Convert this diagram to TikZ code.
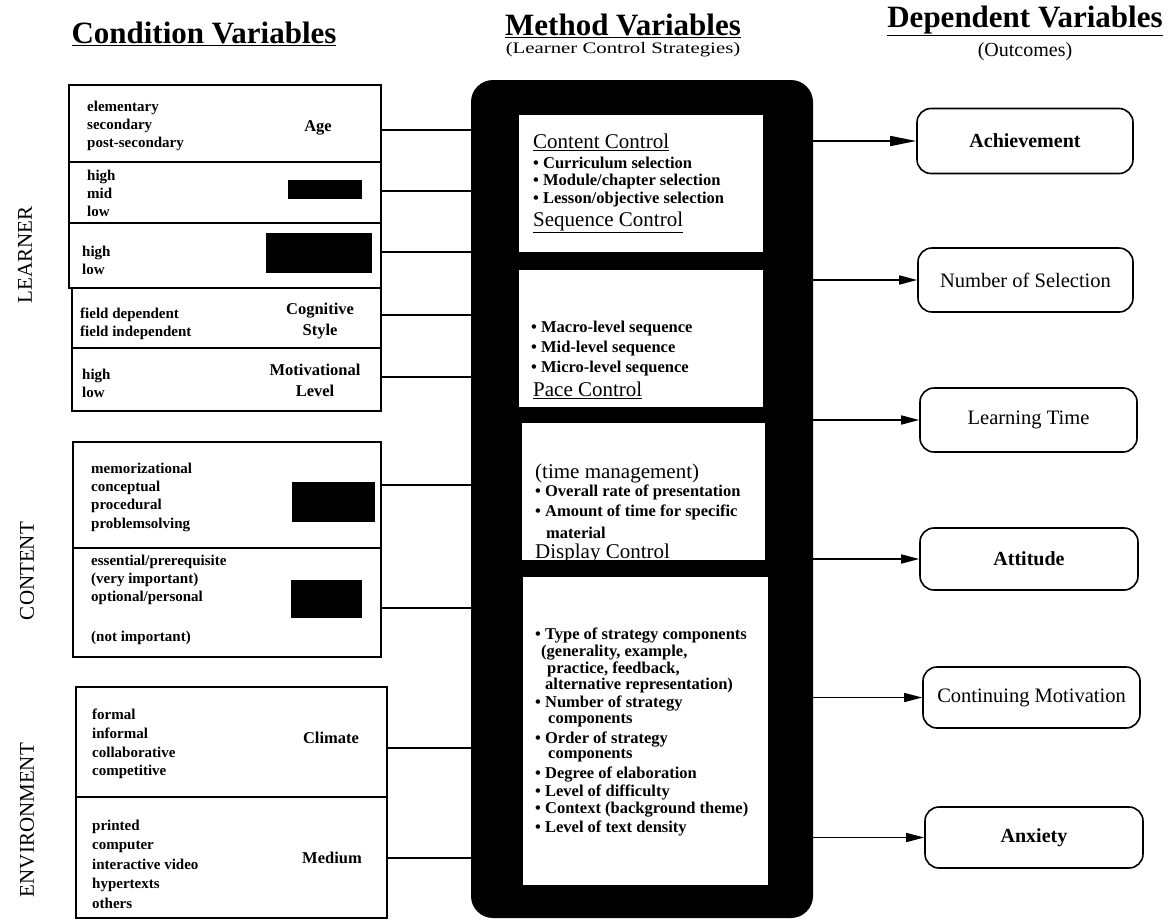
\documentclass[tikz,border=0pt]{standalone}
\usepackage{fontspec}
\setmainfont{Liberation Serif}
\usetikzlibrary{arrows.meta}
\begin{document}
\begin{tikzpicture}[x=1pt,y=-1pt,
  box/.style={draw, line width=1.6pt, inner sep=0, rectangle},
  itm/.style={anchor=west, align=left, inner sep=0, font=\fontsize{15}{18}\selectfont\bfseries},
  lab/.style={align=center, inner sep=0, font=\fontsize{16.5}{21}\selectfont\bfseries},
  side/.style={rotate=90, inner sep=0, font=\fontsize{21}{24}\selectfont},
  blt/.style={anchor=west, inner sep=0, font=\fontsize{16.5}{18}\selectfont\bfseries},
  hd/.style={anchor=west, inner sep=0, font=\fontsize{21}{23}\selectfont},
  ttl/.style={anchor=base, inner sep=0, font=\fontsize{31}{34}\selectfont\bfseries},
  outc/.style={draw, line width=1.6pt, rounded corners=14pt, inner sep=0, font=\fontsize{20.5}{23}\selectfont},
  outb/.style={outc, font=\fontsize{20}{23}\selectfont\bfseries},
  conn/.style={line width=1.6pt},
  arr/.style={line width=1.6pt, -{Triangle[length=18pt,width=9pt]}},
  panel/.style={fill=white, inner sep=0, rectangle},
  patch/.style={fill=black, inner sep=0, rectangle},
]
\useasboundingbox (0,0) rectangle (1168,922);

% titles
\node[ttl] (tcond) at (204,43) {\underline{Condition Variables}};
\node[ttl] (tmeth) at (623,35) {\underline{Method Variables}};
\node[inner sep=0, font=\fontsize{16}{18}\selectfont] (tmsub) at (623,50) {\scalebox{1.3}[1]{(Learner Control Strategies)}};
\node[ttl] (tdep) at (1025,27) {\underline{Dependent Variables}};
\node[inner sep=0, font=\fontsize{20}{22}\selectfont] (tdsub) at (1025,52) {(Outcomes)};

% side labels
\node[side] (slearn) at (25,255) {LEARNER};
\node[side] (scont) at (27,571) {CONTENT};
\node[side] (senv) at (27,820) {ENVIRONMENT};

% left boxes
\node[box, minimum width=312, minimum height=77] (age) at (225,123.5) {};
\node[box, minimum width=312, minimum height=61] (abl) at (225,192.5) {};
\node[box, minimum width=312, minimum height=65] (pri) at (225,255.5) {};
\node[box, minimum width=309, minimum height=60] (cog) at (226.5,318) {};
\node[box, minimum width=309, minimum height=63] (mot) at (226.5,379.5) {};
\node[box, minimum width=308, minimum height=106] (c1) at (227,495) {};
\node[box, minimum width=308, minimum height=109] (c2) at (227,602.5) {};
\node[box, minimum width=311, minimum height=110] (e1) at (231.5,742) {};
\node[box, minimum width=311, minimum height=121] (e2) at (231.5,857.5) {};

% left box contents
\node[itm] (ageL) at (87,126) {elementary\\secondary\\post-secondary};
\node[lab] (ageR) at (318,128) {Age};
\node[itm] (ablL) at (87,193) {high\\mid\\low};
\node[patch, minimum width=74, minimum height=19] (ablP) at (325,189.5) {};
\node[itm] (priL) at (82,260) {high\\low};
\node[patch, minimum width=106, minimum height=40] (priP) at (319,253) {};
\node[itm] (cogL) at (80,324) {field dependent\\field independent};
\node[lab] (cogR) at (320,321) {Cognitive\\Style};
\node[itm] (motL) at (82,383) {high\\low};
\node[lab] (motR) at (315,380) {Motivational\\Level};
\node[itm, font=\fontsize{15}{18.3}\selectfont\bfseries] (c1L) at (91,497) {memorizational\\conceptual\\procedural\\problemsolving};
\node[patch, minimum width=83, minimum height=40] (c1P) at (333.5,502) {};
\node[itm] (c2L) at (91,600) {essential/prerequisite\\(very important)\\optional/personal\\[22pt](not important)};
\node[patch, minimum width=71, minimum height=38] (c2P) at (326.5,599) {};
\node[itm, font=\fontsize{15}{18.7}\selectfont\bfseries] (e1L) at (92,744) {formal\\informal\\collaborative\\competitive};
\node[lab] (e1R) at (331,738) {Climate};
\node[itm, font=\fontsize{15}{19.5}\selectfont\bfseries] (e2L) at (92,864) {printed\\computer\\interactive video\\hypertexts\\others};
\node[lab] (e2R) at (332,858) {Medium};

% middle frame
\node[fill=black, rounded corners=22pt, inner sep=0, minimum width=342, minimum height=838] (frame) at (642,499) {};
\node[panel, minimum width=244, minimum height=137] (p1) at (641,183.5) {};
\node[panel, minimum width=244, minimum height=137] (p2) at (641,338.5) {};
\node[panel, minimum width=243, minimum height=137] (p3) at (643.5,491.5) {};
\node[panel, minimum width=245, minimum height=308] (p4) at (645.5,731) {};

% panel 1
\node[hd] (h1) at (533,142) {\underline{Content Control}};
\node[blt] (b11) at (533,163) {• Curriculum selection};
\node[blt] (b12) at (533,182) {• Module/chapter selection};
\node[blt] (b13) at (533,200) {• Lesson/objective selection};
\node[hd] (h2) at (533,222) {\underline{Sequence Control}};
% panel 2
\node[blt] (b21) at (531,329) {• Macro-level sequence};
\node[blt] (b22) at (531,349) {• Mid-level sequence};
\node[blt] (b23) at (531,369) {• Micro-level sequence};
\node[hd] (h3) at (533,390) {\underline{Pace Control}};
% panel 3
\node[hd] (t31) at (535,473) {(time management)};
\node[blt] (b31) at (535,492) {• Overall rate of presentation};
\node[blt] (b32) at (535,512) {• Amount of time for specific};
\node[blt] (b33) at (546,533) {material};
\node[hd] (h4) at (535,553) {Display Control};
% panel 4
\node[blt] (b41) at (535,636) {• Type of strategy components};
\node[blt] (b42) at (541,653) {(generality, example,};
\node[blt] (b43) at (547,669) {practice, feedback,};
\node[blt] (b44) at (545,686) {alternative representation)};
\node[blt] (b45) at (535,704) {• Number of strategy};
\node[blt] (b46) at (548,721) {components};
\node[blt] (b47) at (535,739) {• Order of strategy};
\node[blt] (b48) at (548,756) {components};
\node[blt] (b49) at (535,774) {• Degree of elaboration};
\node[blt] (b410) at (535,792) {• Level of difficulty};
\node[blt] (b411) at (535,810) {• Context (background theme)};
\node[blt] (b412) at (535,828) {• Level of text density};

% outcomes
\node[outb, minimum width=216, minimum height=65] (ach) at (1025,141) {Achievement};
\node[outc, minimum width=215, minimum height=64] (nos) at (1025.5,280) {Number of Selection};
\node[outc, minimum width=217, minimum height=64] (lt) at (1028.5,420) {Learning Time};
\node[outb, minimum width=218, minimum height=62] (att) at (1029,559) {Attitude};
\node[outc, minimum width=217, minimum height=61] (cm) at (1031.5,697.5) {Continuing Motivation};
\node[outb, minimum width=218, minimum height=61] (anx) at (1034,837.5) {Anxiety};

% left connectors
\draw[conn] (age.east |- 0,130) -- (frame.west |- 0,130);
\draw[conn] (abl.east |- 0,191) -- (frame.west |- 0,191);
\draw[conn] (pri.east |- 0,252) -- (frame.west |- 0,252);
\draw[conn] (cog.east |- 0,315) -- (frame.west |- 0,315);
\draw[conn] (mot.east |- 0,377) -- (frame.west |- 0,377);
\draw[conn] (c1.east |- 0,485) -- (frame.west |- 0,485);
\draw[conn] (c2.east |- 0,608) -- (frame.west |- 0,608);
\draw[conn] (e1.east |- 0,748) -- (frame.west |- 0,748);
\draw[conn] (e2.east |- 0,858) -- (frame.west |- 0,858);

% right arrows
\draw[line width=1.6pt, -{Triangle[length=26pt,width=10pt]}] (frame.east |- ach.west) -- (ach.west);
\draw[arr] (frame.east |- nos.west) -- (nos.west);
\draw[arr] (frame.east |- lt.west) -- (lt.west);
\draw[arr] (frame.east |- att.west) -- (att.west);
\draw[arr] (frame.east |- cm.west) -- (cm.west);
\draw[arr] (frame.east |- anx.west) -- (anx.west);
\end{tikzpicture}
\end{document}
